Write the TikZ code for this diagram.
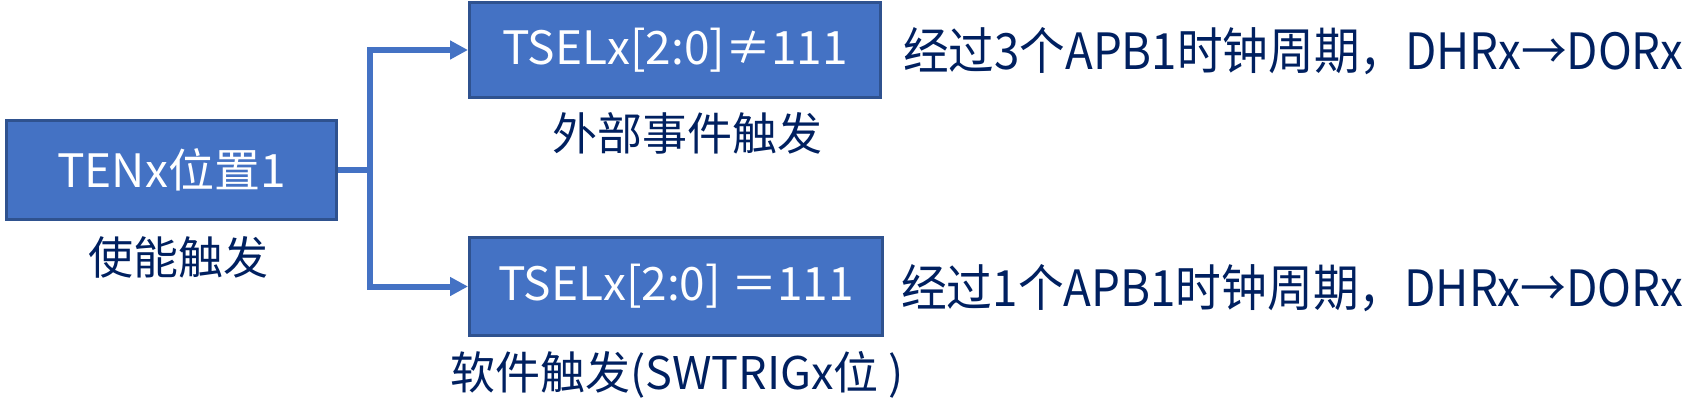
\documentclass[tikz,border=0pt]{standalone}
\usepackage{graphicx}
\usepackage{fontspec}
\setmainfont{Noto Sans CJK SC}
\usetikzlibrary{arrows.meta}
\definecolor{boxblue}{HTML}{4472C4}
\definecolor{boxedge}{HTML}{2F528F}
\definecolor{navy}{HTML}{002060}
\begin{document}
\begin{tikzpicture}[x=1pt,y=-1pt,
  box/.style={draw=boxedge, line width=3pt, fill=boxblue, text=white, inner sep=0pt, font=\fontsize{46}{50}\selectfont},
  lbl/.style={text=navy, inner sep=0pt, font=\fontsize{45}{50}\selectfont},
  info/.style={text=navy, inner sep=0pt, anchor=west, font=\fontsize{50}{54}\selectfont},
  conn/.style={draw=boxblue, line width=6pt},
  arr/.style={conn, -{Triangle[length=18pt,width=18pt]}}]
\useasboundingbox (0,0) rectangle (1694,404);
\node[box, minimum width=330pt, minimum height=99pt] (en) at (171.5,170) {TENx位置1};
\node[lbl] (enl) at (178,257) {使能触发};
\node[box, minimum width=411pt, minimum height=95pt] (top) at (675,50) {TSELx[2:0]≠111};
\node[lbl] (topl) at (687,133) {外部事件触发};
\node[box, minimum width=413pt, minimum height=98pt] (bot) at (676,286.5) {TSELx[2:0] ＝111};
\node[lbl] (botl) at (677,375) {软件触发(SWTRIGx位 )};
\node[info] (topi) at (903,51) {\resizebox{780pt}{\height}{经过3个APB1时钟周期，DHRx→DORx}};
\node[info] (boti) at (901,288) {\resizebox{782pt}{\height}{经过1个APB1时钟周期，DHRx→DORx}};
\coordinate (j) at (370,170);
\draw[conn] (en.east) -- (j);
\draw[arr] (j) |- (top.west);
\draw[arr] (j) |- (bot.west);
\end{tikzpicture}
\end{document}
